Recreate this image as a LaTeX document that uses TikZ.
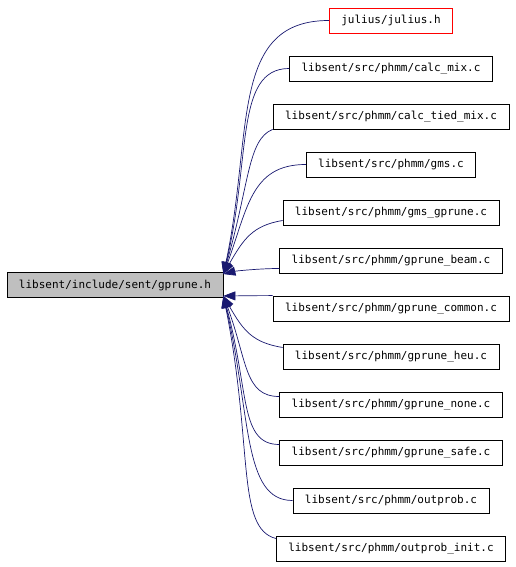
\documentclass[tikz,border=0pt]{standalone}
\usepackage{fontspec}
\newfontfamily\filefont{DejaVu Sans Mono}
\definecolor{edgeblue}{RGB}{25, 25, 112}
\definecolor{curgray}{RGB}{191, 191, 191}
\definecolor{hdrred}{RGB}{255, 0, 0}
\usetikzlibrary{arrows.meta, calc}

\begin{document}
\begin{tikzpicture}[x=1pt, y=1pt,
    file/.style={draw=black, fill=white, line width=0.8pt, minimum height=25pt, inner xsep=12pt, inner ysep=0pt, font=\fontsize{11}{13}\selectfont\filefont},
    incl/.style={draw=edgeblue, line width=0.7pt, -{Triangle[length=12pt, width=9pt]}}]
  \useasboundingbox (0,0) rectangle (516,567);

  % the header that is included
  \node[file, fill=curgray] (gprune) at (115, 282) {libsent/include/sent/gprune.h};

  % files that include it
  \node[file, draw=hdrred] (julius) at (391, 546.5) {julius/julius.h};
  \node[file] (calcmix) at (391, 498.5) {libsent/src/phmm/calc\_mix.c};
  \node[file] (calctied) at (391, 450.5) {libsent/src/phmm/calc\_tied\_mix.c};
  \node[file] (gms) at (391, 402.5) {libsent/src/phmm/gms.c};
  \node[file] (gmsgprune) at (391, 354.5) {libsent/src/phmm/gms\_gprune.c};
  \node[file] (gprunebeam) at (391, 306.5) {libsent/src/phmm/gprune\_beam.c};
  \node[file] (gprunecommon) at (391, 258.5) {libsent/src/phmm/gprune\_common.c};
  \node[file] (gpruneheu) at (391, 210.5) {libsent/src/phmm/gprune\_heu.c};
  \node[file] (gprunenone) at (391, 162.5) {libsent/src/phmm/gprune\_none.c};
  \node[file] (gprunesafe) at (391, 114.5) {libsent/src/phmm/gprune\_safe.c};
  \node[file] (outprob) at (391, 66.5) {libsent/src/phmm/outprob.c};
  \node[file] (outprobinit) at (391, 18.5) {libsent/src/phmm/outprob\_init.c};

  % arrow ends on the header box
  \coordinate (upin) at ([yshift=-2pt]gprune.north east);
  \coordinate (loin) at ([yshift=2pt]gprune.south east);

  % upper edges
  \draw[incl] (julius.west) .. controls +(-100,0) and +(30,140) .. (upin);
  \draw[incl] (calcmix.west) .. controls +(-55,0) and +(28,115) .. (upin);
  \draw[incl] (calctied.south west) .. controls +(-25,-10) and +(26,90) .. (upin);
  \draw[incl] (gms.west) .. controls +(-55,0) and +(24,65) .. (upin);
  \draw[incl] ([yshift=-8pt]gmsgprune.west) .. controls +(-30,-5) and +(20,35) .. (upin);
  \draw[incl] ([yshift=-8pt]gprunebeam.west) .. controls +(-20,0) and +(12,3) .. (upin);

  % lower edges
  \draw[incl] (gprunecommon.north west) .. controls +(-20,0) and +(12,0) .. (loin);
  \draw[incl] ([yshift=9pt]gpruneheu.west) .. controls +(-30,5) and +(20,-35) .. (loin);
  \draw[incl] ([yshift=8pt]gprunenone.west) .. controls +(-35,0) and +(24,-65) .. (loin);
  \draw[incl] ([yshift=8pt]gprunesafe.west) .. controls +(-40,0) and +(26,-95) .. (loin);
  \draw[incl] (outprob.west) .. controls +(-50,0) and +(28,-120) .. (loin);
  \draw[incl] ([yshift=10pt]outprobinit.west) .. controls +(-40,10) and +(30,-150) .. (loin);
\end{tikzpicture}
\end{document}
